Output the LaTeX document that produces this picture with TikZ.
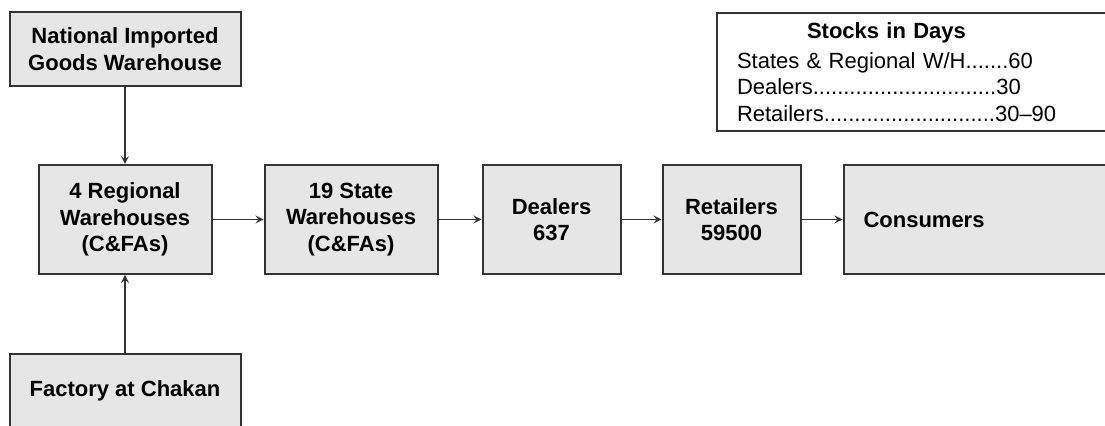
\documentclass[tikz,border=0pt]{standalone}
\usepackage{fontspec}
\setmainfont{Liberation Sans}
\usepackage{xcolor}
\usepackage{tikz}
\usetikzlibrary{shapes.geometric, arrows, positioning}
\definecolor{boxgray}{HTML}{E6E6E6}
\definecolor{edgegray}{HTML}{333333}
\begin{document}
\begin{tikzpicture}[
			x=1pt, y=1pt,
			node distance = 38.5pt and 21pt,
			font=\fontsize{11}{13.3}\selectfont,
			flowblock/.style = {rectangle, draw=edgegray, line width=1pt, fill=boxgray,
					align=center, font=\fontsize{11}{13.3}\selectfont\bfseries, inner sep=0pt},
			bigblock/.style = {flowblock, minimum width=115.5pt, minimum height=37pt},
			whblock/.style = {flowblock, minimum width=86.5pt, minimum height=54.5pt},
			tradeblock/.style = {flowblock, minimum width=69pt, minimum height=54.5pt},
			line/.style = {draw, draw=edgegray, line width=0.75pt, -stealth},
		]
		\useasboundingbox (0,0) rectangle (552.5,-213);
		\clip (-5,5) rectangle (565,-225);

		% Sources
		\node [bigblock] (national) at (62.5,-24.5) {National Imported\\Goods Warehouse};
		\node [whblock, below=of national] (regional) {4 Regional\\Warehouses\\(C\&FAs)};
		\node [bigblock, below=39pt of regional] (factory) {Factory at Chakan};

		% Distribution chain
		\node [whblock, right=25.5pt of regional] (state) {19 State\\Warehouses\\(C\&FAs)};
		\node [tradeblock, right=21.5pt of state] (dealers) {Dealers\\637};
		\node [tradeblock, right=20pt of dealers] (retailers) {Retailers\\59500};
		\node [tradeblock, right=20.5pt of retailers, minimum width=150pt,
			text width=130pt, align=left, inner xsep=10pt] (consumers) {Consumers};

		% Stocks table
		\node [rectangle, draw=edgegray, line width=1pt, anchor=north west,
			minimum width=200pt, minimum height=59pt, text width=180pt,
			align=left, inner xsep=9.5pt, inner ysep=0pt] (stocks) at (358,-6)
			{\hspace*{35pt}\textbf{Stocks in Days}\\[1.5pt]
			States \& Regional W/H.......60\\
			Dealers..............................30\\
			Retailers............................30--90};

		% Draw arrows
		\path [line] (national) -- (regional);
		\path [line] (factory) -- (regional);
		\path [line] (regional) -- (state);
		\path [line] (state) -- (dealers);
		\path [line] (dealers) -- (retailers);
		\path [line] (retailers) -- (consumers);

	\end{tikzpicture}
\end{document}
